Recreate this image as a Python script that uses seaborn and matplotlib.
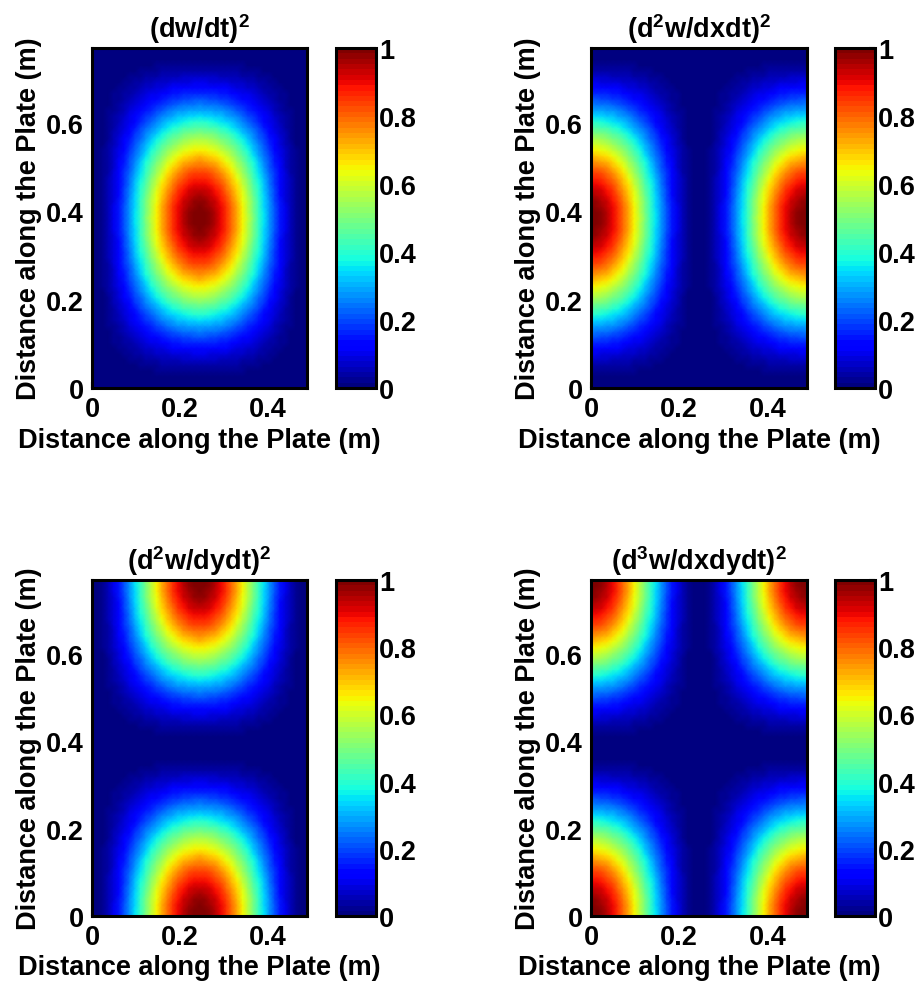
import numpy as np
import pandas as pd
import matplotlib
matplotlib.use("Agg")
import matplotlib.pyplot as plt
import matplotlib.transforms as mtransforms
import seaborn as sns

# ---------------- data ----------------
plate_width = 0.49   # m (x extent)
plate_height = 0.77  # m (y extent)

# normalised profile across x: peaks at plate centre
x_peak = [0, .0062, .0245, .0545, .0955, .1464, .2061, .2730, .3455, .4218, .5,
          .5782, .6545, .7270, .7939, .8536, .9045, .9455, .9755, .9938, 1,
          .9938, .9755, .9455, .9045, .8536, .7939, .7270, .6545, .5782, .5,
          .4218, .3455, .2730, .2061, .1464, .0955, .0545, .0245, .0062, 0]
# normalised profile across x: peaks at plate edges
x_edge = [1, .9938, .9755, .9455, .9045, .8536, .7939, .7270, .6545, .5782, .5,
          .4218, .3455, .2730, .2061, .1464, .0955, .0545, .0245, .0062, 0,
          .0062, .0245, .0545, .0955, .1464, .2061, .2730, .3455, .4218, .5,
          .5782, .6545, .7270, .7939, .8536, .9045, .9455, .9755, .9938, 1]
# normalised profile across y: peaks at plate centre
y_peak = [0, .0027, .0109, .0245, .0432, .0670, .0955, .1284, .1654, .2061, .25,
          .2966, .3455, .3960, .4477, .5, .5523, .6040, .6545, .7034, .75,
          .7939, .8346, .8716, .9045, .9330, .9568, .9755, .9891, .9973, 1,
          .9973, .9891, .9755, .9568, .9330, .9045, .8716, .8346, .7939, .75,
          .7034, .6545, .6040, .5523, .5, .4477, .3960, .3455, .2966, .25,
          .2061, .1654, .1284, .0955, .0670, .0432, .0245, .0109, .0027, 0]
# normalised profile across y: peaks at plate edges
y_edge = [1, .9973, .9891, .9755, .9568, .9330, .9045, .8716, .8346, .7939, .75,
          .7034, .6545, .6040, .5523, .5, .4477, .3960, .3455, .2966, .25,
          .2061, .1654, .1284, .0955, .0670, .0432, .0245, .0109, .0027, 0,
          .0027, .0109, .0245, .0432, .0670, .0955, .1284, .1654, .2061, .25,
          .2966, .3455, .3960, .4477, .5, .5523, .6040, .6545, .7034, .75,
          .7939, .8346, .8716, .9045, .9330, .9568, .9755, .9891, .9973, 1]

titles = [r"(dw/dt)$^{2}$", r"(d$^{2}$w/dxdt)$^{2}$",
          r"(d$^{2}$w/dydt)$^{2}$", r"(d$^{3}$w/dxdydt)$^{2}$"]
panel_profiles = [(y_peak, x_peak), (y_peak, x_edge), (y_edge, x_peak), (y_edge, x_edge)]

x_ticks = [0, 0.2, 0.4]
x_tick_labels = ["0", "0.2", "0.4"]
y_ticks = [0, 0.2, 0.4, 0.6]
y_tick_labels = ["0", "0.2", "0.4", "0.6"]
cbar_ticks = [0, 0.2, 0.4, 0.6, 0.8, 1]
cbar_tick_labels = ["0", "0.2", "0.4", "0.6", "0.8", "1"]
axis_label = "Distance along the Plate (m)"

# ---------------- style ----------------
sns.set_style("ticks")
plt.rcParams["font.family"] = ["Liberation Sans", "DejaVu Sans"]
plt.rcParams["font.weight"] = "bold"
plt.rcParams["axes.labelweight"] = "bold"
plt.rcParams["axes.titleweight"] = "bold"
plt.rcParams["text.color"] = "black"
plt.rcParams["axes.labelcolor"] = "black"
plt.rcParams["axes.titlecolor"] = "black"
plt.rcParams["xtick.color"] = "black"
plt.rcParams["ytick.color"] = "black"
plt.rcParams["mathtext.fontset"] = "custom"
plt.rcParams["mathtext.rm"] = "Liberation Sans:bold"
plt.rcParams["mathtext.it"] = "Liberation Sans:bold"
plt.rcParams["mathtext.bf"] = "Liberation Sans:bold"
plt.rcParams["mathtext.default"] = "bf"

FS = 19.5
cmap = matplotlib.colormaps["jet"].resampled(64)

fig = plt.figure(figsize=(9.2, 9.87), dpi=100)
W, H = 920.0, 987.0

# pixel boxes: (left, right, cbar left, cbar right) per column, (top, bottom) per row
ax_cols = [(92, 307, 336, 376), (591, 807, 835, 875)]
ax_rows = [(49, 389), (581, 917)]

for k in range(4):
    r, c = divmod(k, 2)
    l, rr, cl, cr = ax_cols[c]
    t, b = ax_rows[r]
    ax = fig.add_axes([l / W, 1 - b / H, (rr - l) / W, (b - t) / H])
    cax = fig.add_axes([cl / W, 1 - b / H, (cr - cl) / W, (b - t) / H])

    yp, xp = panel_profiles[k]
    Z = np.outer(np.array(yp), np.array(xp))
    df = pd.DataFrame(Z)
    ny, nx = Z.shape

    sns.heatmap(df, ax=ax, cmap=cmap, vmin=0, vmax=1, cbar_ax=cax,
                xticklabels=False, yticklabels=False)
    mesh = ax.collections[0]
    # smooth (interpolated) shading like MATLAB's "shading interp":
    # put mesh vertices on the sample points and let the renderer blend colours
    try:
        gx, gy = np.meshgrid(np.linspace(0, nx, nx), np.linspace(0, ny, ny))
        mesh._coordinates = np.stack([gx, gy], axis=-1)
        mesh._shading = "gouraud"
    except Exception:
        pass
    mesh.set_transform(mtransforms.Affine2D().scale(plate_width / nx, plate_height / ny)
                       + ax.transData)
    ax.set_xlim(0, plate_width)
    ax.set_ylim(0, plate_height)

    ax.set_xticks(x_ticks)
    ax.set_xticklabels(x_tick_labels)
    ax.set_yticks(y_ticks)
    ax.set_yticklabels(y_tick_labels)
    ax.tick_params(axis="both", direction="in", length=4, width=1.5,
                   labelsize=FS, pad=6, top=False, right=False,
                   bottom=True, left=True, colors="black")
    for s in ax.spines.values():
        s.set_visible(True)
        s.set_linewidth(2.2)
        s.set_color("black")
    ax.set_xlabel(axis_label, fontsize=FS, labelpad=3, color="black")
    ax.set_ylabel(axis_label, fontsize=FS, labelpad=3, color="black")
    ax.set_title(titles[k], fontsize=FS, pad=8, color="black")

    cb = mesh.colorbar
    cb.set_ticks(cbar_ticks)
    cb.set_ticklabels(cbar_tick_labels)
    cb.outline.set_visible(True)
    cb.outline.set_linewidth(2.2)
    cb.outline.set_edgecolor("black")
    cax.tick_params(axis="y", direction="in", length=4, width=1.5,
                    labelsize=FS, pad=2, right=True, left=False, colors="black")

fig.savefig("out.png", dpi=100, facecolor="white")
